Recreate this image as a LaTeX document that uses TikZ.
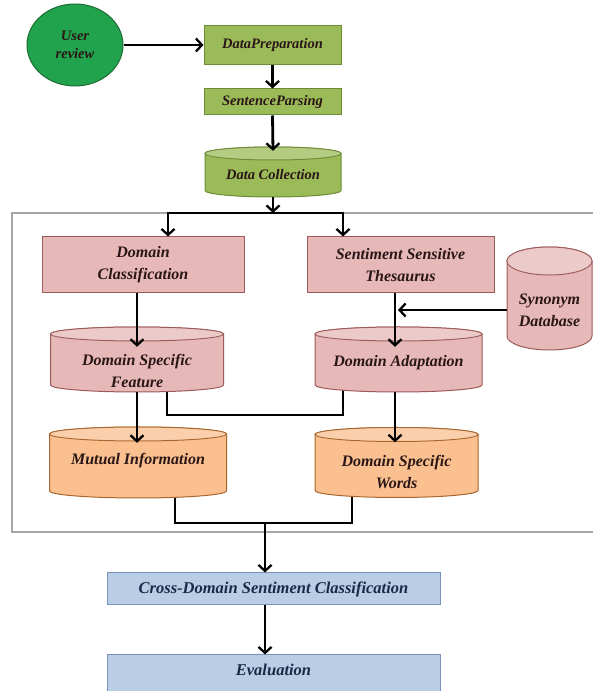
\documentclass[tikz,border=0pt]{standalone}
\usepackage{fontspec}
\setmainfont{Liberation Serif}
\usetikzlibrary{arrows.meta,shapes.geometric,calc}
\definecolor{urfill}{HTML}{21A24C}
\definecolor{urdraw}{HTML}{1E6B34}
\definecolor{olfill}{HTML}{9BBB59}
\definecolor{oldraw}{HTML}{6E8B35}
\definecolor{pkfill}{HTML}{E6B9B8}
\definecolor{pkdraw}{HTML}{9C5A58}
\definecolor{orfill}{HTML}{FAC090}
\definecolor{ordraw}{HTML}{A8652C}
\definecolor{blfill}{HTML}{B9CDE5}
\definecolor{bldraw}{HTML}{7893B8}
\definecolor{txt}{HTML}{2A1616}
\definecolor{navy}{HTML}{1C2848}
\definecolor{framec}{HTML}{A6A6A6}
\pgfdeclarelayer{bg}
\pgfsetlayers{bg,main}
\tikzset{
  lbl/.style={font=\bfseries\itshape\fontsize{16}{22}\selectfont, text=txt, align=center, inner sep=0pt},
  smalllbl/.style={font=\bfseries\itshape\fontsize{14.5}{18}\selectfont},
  ln/.style={line width=2.8pt, black},
  arr/.style={ln, -{Straight Barb[length=6pt,width=13pt,line width=2.3pt]}},
  olbox/.style={lbl, smalllbl, rectangle, draw=oldraw, fill=olfill, line width=1pt},
  pkbox/.style={lbl, rectangle, draw=pkdraw, fill=pkfill, line width=1pt},
  blbox/.style={rectangle, draw=bldraw, fill=blfill, line width=1pt, inner sep=0pt},
  bltext/.style={lbl, text=navy, font=\bfseries\itshape\fontsize{16.5}{20}\selectfont},
  olcyl/.style={draw=oldraw, fill=olfill, line width=1pt},
  pkcyl/.style={draw=pkdraw, fill=pkfill, line width=1pt},
  orcyl/.style={draw=ordraw, fill=orfill, line width=1pt},
  framestyle/.style={draw=framec, line width=1.3pt},
}
% name, x, y, w, h, ry, style, text, text yshift
\newcommand\cylnode[9]{%
 \begin{scope}[shift={(#2,#3)}]
  \node[inner sep=0pt, minimum width=#4pt, minimum height=#5pt] (#1) at (0,0) {};
  \path[#7] (-#4/2,#5/2-#6) -- (-#4/2,-#5/2+#6)
     arc[start angle=180,end angle=360,x radius=#4pt/2,y radius=#6pt]
     -- (#4/2,#5/2-#6)
     arc[start angle=0,end angle=180,x radius=#4pt/2,y radius=#6pt] -- cycle;
  \path[#7] (0,#5/2-#6) ellipse[x radius=#4pt/2,y radius=#6pt];
  \fill[white,opacity=0.25] (0,#5/2-#6) ellipse[x radius=#4pt/2-0.5pt,y radius=#6pt-0.5pt];
  \node[lbl] (#1t) at (0,#9) {#8};
 \end{scope}}
\begin{document}
\begin{tikzpicture}[x=1pt,y=1pt]
\useasboundingbox (0,0) rectangle (592,691);

\begin{pgfonlayer}{bg}
  \draw[framestyle] (12,159) rectangle (612,478);
\end{pgfonlayer}

% top flow
\node[lbl, smalllbl, ellipse, draw=urdraw, fill=urfill, line width=1pt, minimum width=96pt, minimum height=82pt] (ur) at (75,646) {User\\review};
\node[olbox, minimum width=137pt, minimum height=39pt] (dp) at (272.5,646) {DataPreparation};
\node[olbox, minimum width=137pt, minimum height=26pt] (sp) at (272.5,589) {SentenceParsing};
\cylnode{dcol}{273}{519}{136}{50}{6.5}{olcyl}{\fontsize{14.5}{18}\selectfont Data Collection}{-3}

% middle
\node[pkbox, minimum width=202pt, minimum height=56pt] (dcl) at (143,426) {Domain\\Classification};
\node[pkbox, minimum width=187pt, minimum height=56pt] (sst) at (400.5,426) {Sentiment Sensitive\\Thesaurus};
\cylnode{syn}{549.5}{392.5}{85}{103}{14}{pkcyl}{Synonym\\Database}{-12}
\cylnode{dsf}{137}{331.5}{173}{65}{7}{pkcyl}{Domain Specific\\Feature}{-11}
\cylnode{da}{398.5}{331.5}{167}{65}{7}{pkcyl}{Domain Adaptation}{-3}
\cylnode{mi}{138}{228.5}{177}{71}{7}{orcyl}{Mutual Information}{2}
\cylnode{dsw}{396.5}{228.5}{163}{70}{7}{orcyl}{Domain Specific\\Words}{-9}

% bottom
\node[blbox, minimum width=333pt, minimum height=32pt] (cross) at (273.5,102) {};
\node[bltext] (crosst) at (273.5,102) {Cross-Domain Sentiment Classification};
\node[blbox, minimum width=333pt, minimum height=48pt] (evalbox) at (273.5,12) {};
\node[bltext] (eval) at (273.5,21) {Evaluation};

% coordinates
\coordinate (j1) at (273,478);
\coordinate (bl) at (168,478);
\coordinate (br) at (343,478);
\coordinate (sj) at (395,381);
\coordinate (lp1) at (167,276);
\coordinate (lp2) at (343,276);
\coordinate (m1) at (175,168);
\coordinate (m2) at (352,168);
\coordinate (j2) at (265,168);

% connectors
\draw[arr] (ur.east) -- (ur.east -| dp.west);
\draw[arr] (dp.south) -- (sp.north);
\draw[arr] (sp.south) -- ([yshift=-4pt]dcol.north);
\draw[arr] (dcol.south) -- (j1);
\draw[arr] (j1) -- (bl) -- (bl |- dcl.north);
\draw[arr] (j1) -- (br) -- (br |- sst.north);
\draw[arr] (dcl.south -| dsf.north) -- ([yshift=-20pt]dsf.north);
\draw[arr] (sst.south -| sj) -- ([yshift=-20pt]da.north -| sj);
\draw[arr] (syn.west |- sj) -- ([xshift=3pt]sj);
\draw[arr] (dsf.south) -- ([yshift=-16pt]mi.north -| dsf.south);
\draw[arr] (da.south -| sj) -- ([yshift=-15pt]dsw.north -| sj);
\begin{pgfonlayer}{bg}
  \draw[ln] (dsf.center -| lp1) -- (lp1) -- (lp2) -- (da.center -| lp2);
  \draw[ln] (mi.center -| m1) -- (m1) -- (m2) -- (dsw.center -| m2);
\end{pgfonlayer}
\draw[arr] (j2) -- (cross.north -| j2);
\draw[arr] (cross.south -| j2) -- (evalbox.north -| j2);
\end{tikzpicture}
\end{document}
